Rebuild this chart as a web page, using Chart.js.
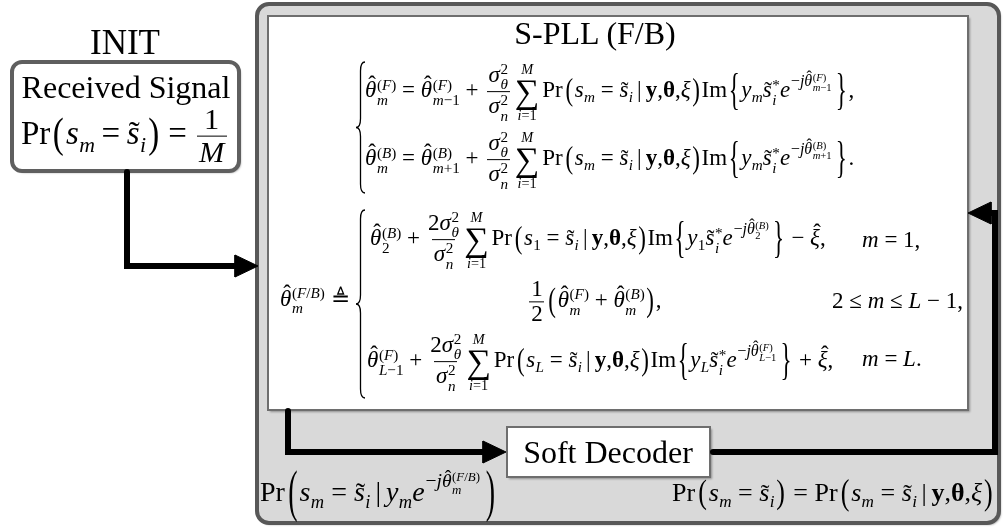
<!DOCTYPE html>
<html>
<head>
<meta charset="utf-8">
<script src="https://cdn.jsdelivr.net/npm/chart.js@4.4.0/dist/chart.umd.min.js"></script>
<style>
  body { margin: 0; background: #fff; }
  #wrap { position: relative; width: 1003px; height: 531px; }
  #diagram { position: absolute; left: 0; top: 0; }
  #ov { position: absolute; left: 0; top: 0; width: 1003px; height: 531px; pointer-events: none;
        font-family: "Liberation Serif", "Times New Roman", serif; color: #000; }
  .t { position: absolute; white-space: nowrap; line-height: 1; }
  .st { display: inline-block; vertical-align: -0.5em; font-size: 66%; line-height: 1.0; text-align: left; margin-left: 0.04em; }
  .st > span { display: block; }
  .up { font-size: 70%; vertical-align: 0.7em; margin-left: 0.04em; }
  .dn { font-size: 66%; vertical-align: -0.35em; margin-left: 0.02em; }
  .fr { display: inline-flex; flex-direction: column; align-items: center; vertical-align: middle; margin: 0 0.1em; line-height: 1.05; }
  .fr > span:last-child { border-top: 1px solid #000; padding: 0 0.08em; }
  .sum { display: inline-flex; flex-direction: column; align-items: center; vertical-align: middle; margin: 0 0.12em; line-height: 1; }
  .sum .lim { font-size: 62%; }
  .sum .sig { font-size: 150%; line-height: 0.92; }
  .bp { display: inline-block; margin: 0 0.07em; }
  .op { margin: 0 0.25em; }
  .bar { margin: 0 0.18em; }
  .hat, .til { position: relative; display: inline-block; }
  .hat::after { content: "\02C6"; position: absolute; left: 0.14em; top: -0.22em; font-style: normal; }
  .til::after { content: "\02DC"; position: absolute; left: 0.06em; top: 0.02em; font-style: normal; }
  .small .fr { font-size: 92%; }
  .small .op { margin: 0 0.2em; }
</style>
</head>
<body>
<div id="wrap">
  <canvas id="diagram" width="1003" height="531"></canvas>
  <div id="ov"></div>
</div>
<script>
// connector routes, in diagram px
const initRoute = [[127, 172], [127, 266], [238, 266]];
const feedRoute = [[288, 411], [288, 452], [486, 452]];
const backRoute = [[713, 452], [995, 452], [995, 213], [988, 213]];
// arrow heads: tip x, tip y, direction (1 = right, -1 = left)
const arrowTips = [[258, 266, 1], [506, 452, 1], [968, 213, -1]];

// boxes: x0, y0, x1, y1, corner radius, fill, stroke, line width
const boxes = [
  [257, 4, 999, 523, 12, "#d9d9d9", "#585858", 4],
  [268, 16, 968, 410, 0, "#ffffff", "#6e6e6e", 2],
  [12, 62, 239, 171, 10, "#ffffff", "#5f5f5f", 4],
  [507, 427, 710, 477, 0, "#ffffff", "#6e6e6e", 2],
];
// case braces: x, top, bottom
const braces = [[356, 62, 193], [356, 210, 398]];

// little math builders
const it = (s) => `<i>${s}</i>`;
const op = (s) => `<span class="op">${s}</span>`;
const bar = `<span class="bar">|</span>`;
const hat = (s) => `<span class="hat"><i>${s}</i></span>`;
const tl = (s) => `<span class="til"><i>${s}</i></span>`;
const both = (b, sub, sup) => `${b}<span class="st"><span>${sup}</span><span>${sub}</span></span>`;
const up = (b, sup) => `${b}<span class="up">${sup}</span>`;
const dn = (b, sub) => `${b}<span class="dn">${sub}</span>`;
const frac = (n, d) => `<span class="fr"><span>${n}</span><span>${d}</span></span>`;
const sum = (lo, hi) => `<span class="sum"><span class="lim">${hi}</span><span class="sig">∑</span><span class="lim">${lo}</span></span>`;
const bp = (c, k, ml = 0.07) => `<span class="bp" style="transform:scaleY(${k});margin-left:${ml}em">${c}</span>`;
const th = (sub, sup) => both(hat("θ"), sub, sup);
const sig2 = (s) => both(it("σ"), s, "2");

const F = `(${it("F")})`, B = `(${it("B")})`, FB = `(${it("F")}/${it("B")})`;
const cond = bar + "<b>y</b>,<b>θ</b>," + it("ξ");
const sm = (s) => dn(it("s"), s) + op("=") + dn(tl("s"), it("i"));
const gain = (k) => frac(k + sig2(it("θ")), sig2(it("n"))) + sum(it("i") + "=1", it("M"));
const prob = (s) => "Pr" + bp("(", 1.35, 0.12) + sm(s) + cond + bp(")", 1.35);
const imag = (y, ang) => "Im" + bp("{", 1.9) + dn(it("y"), y) + both(tl("s"), it("i"), "*") +
  up(it("e"), "−" + it("j") + ang) + bp("}", 1.9, 0.18);

const eqF = th(it("m"), F) + op("=") + th(it("m") + "−1", F) + op("+") + gain("") + prob(it("m")) +
  imag(it("m"), th(it("m") + "−1", F)) + ",";
const eqB = th(it("m"), B) + op("=") + th(it("m") + "+1", B) + op("+") + gain("") + prob(it("m")) +
  imag(it("m"), th(it("m") + "+1", B)) + ".";
const case1 = th("2", B) + op("+") + gain("2") + prob("1") + imag("1", th("2", B)) + op("−") + hat("ξ") + ",";
const case2 = frac("1", "2") + bp("(", 1.5) + th(it("m"), F) + op("+") + th(it("m"), B) + bp(")", 1.5) + ",";
const case3 = th(it("L") + "−1", F) + op("+") + gain("2") + prob(it("L")) + imag(it("L"), th(it("L") + "−1", F)) +
  op("+") + hat("ξ") + ",";
const lhs = th(it("m"), FB) + op("≜");
const initPr = '<span class="small">Pr' + bp("(", 1.3) + sm(it("m")) + bp(")", 1.3) + op("=") + frac("1", it("M")) + "</span>";
const inPr = "Pr" + bp("(", 2.0, 0.12) + sm(it("m")) + bar + dn(it("y"), it("m")) +
  up(it("e"), "−" + it("j") + th(it("m"), FB)) + bp(")", 2.0, 0.2);
const outPr = "Pr" + bp("(", 1.3, 0.12) + sm(it("m")) + bp(")", 1.3) + op("=") + prob(it("m"));

// text labels: x, y (centre), anchor, font size, content
const labels = [
  [125, 42, "c", 35, "INIT"],
  [126, 87, "c", 32, "Received Signal"],
  [21, 136, "l", 33, initPr],
  [595, 33, "c", 32, "S-PLL (F/B)"],
  [365, 92, "l", 23, eqF],
  [365, 160, "l", 23, eqB],
  [280, 300, "l", 23, lhs],
  [370, 240, "l", 23, case1],
  [527, 302, "l", 23, case2],
  [367, 362, "l", 23, case3],
  [862, 239, "l", 23, `${it("m")}${op("=")}1,`],
  [832, 300, "l", 23, `2${op("≤")}${it("m")}${op("≤")}${it("L")}${op("−")}1,`],
  [862, 358, "l", 23, `${it("m")}${op("=")}${it("L")}.`],
  [608, 452, "c", 32, "Soft Decoder"],
  [260, 491, "l", 28, inPr],
  [672, 495, "l", 26, outPr],
];

const pts = (route) => route.map(([x, y]) => ({ x, y }));
const head = ([x, y, d]) => [{ x, y }, { x: x - 23 * d, y: y - 11 }, { x: x - 23 * d, y: y + 11 }, { x, y }];

const ov = document.getElementById("ov");
const labelEls = labels.map(([, , a, s, h]) => {
  const el = document.createElement("div");
  el.className = "t";
  el.style.fontSize = s + "px";
  el.innerHTML = h;
  ov.appendChild(el);
  return el;
});

const boxPlugin = {
  id: "boxes",
  beforeDatasetsDraw(chart) {
    const { ctx, scales: { x, y } } = chart;
    boxes.forEach(([x0, y0, x1, y1, r, fill, stroke, lw]) => {
      const px = x.getPixelForValue(x0), py = y.getPixelForValue(y0);
      const w = x.getPixelForValue(x1) - px, h = y.getPixelForValue(y1) - py;
      ctx.save();
      ctx.beginPath();
      ctx.roundRect(px, py, w, h, r);
      ctx.shadowColor = "rgba(0,0,0,0.35)";
      ctx.shadowOffsetX = 2;
      ctx.shadowOffsetY = 2;
      ctx.shadowBlur = 2;
      ctx.fillStyle = fill;
      ctx.fill();
      ctx.shadowColor = "transparent";
      ctx.lineWidth = lw;
      ctx.strokeStyle = stroke;
      ctx.stroke();
      ctx.restore();
    });
  },
  afterDraw(chart) {
    const { ctx, scales: { x, y } } = chart;
    ctx.save();
    ctx.lineWidth = 1.3;
    ctx.strokeStyle = "#000";
    braces.forEach(([bx, t, b]) => {
      const x0 = x.getPixelForValue(bx), w = 9, xm = x0 + w / 2;
      const y0 = y.getPixelForValue(t), y1 = y.getPixelForValue(b), mid = (y0 + y1) / 2;
      ctx.beginPath();
      ctx.moveTo(x0 + w, y0);
      ctx.quadraticCurveTo(xm, y0, xm, y0 + w);
      ctx.lineTo(xm, mid - w);
      ctx.quadraticCurveTo(xm, mid, x0, mid);
      ctx.quadraticCurveTo(xm, mid, xm, mid + w);
      ctx.lineTo(xm, y1 - w);
      ctx.quadraticCurveTo(xm, y1, x0 + w, y1);
      ctx.stroke();
    });
    ctx.restore();
    labels.forEach(([lx, ly, a], k) => {
      const el = labelEls[k];
      el.style.left = x.getPixelForValue(lx) + "px";
      el.style.top = y.getPixelForValue(ly) + "px";
      el.style.transform = `translate(${a === "c" ? "-50%" : "0"}, -50%)`;
    });
  },
};

const line = (route) => ({
  data: pts(route),
  borderColor: "#000",
  borderWidth: 6,
  borderCapStyle: "round",
  borderJoinStyle: "miter",
  pointRadius: 0,
  fill: false,
});
const arrow = (tip) => ({
  data: head(tip),
  borderColor: "#000",
  backgroundColor: "#000",
  borderWidth: 1,
  pointRadius: 0,
  fill: "shape",
});

new Chart(document.getElementById("diagram"), {
  type: "line",
  data: {
    datasets: [line(initRoute), line(feedRoute), line(backRoute), ...arrowTips.map(arrow)],
  },
  plugins: [boxPlugin],
  options: {
    responsive: false,
    animation: false,
    layout: { padding: 0 },
    scales: {
      x: { type: "linear", min: 0, max: 1003, display: false },
      y: { type: "linear", min: 0, max: 531, reverse: true, display: false },
    },
    plugins: {
      legend: { display: false },
      tooltip: { enabled: false },
    },
  },
});
</script>
</body>
</html>
